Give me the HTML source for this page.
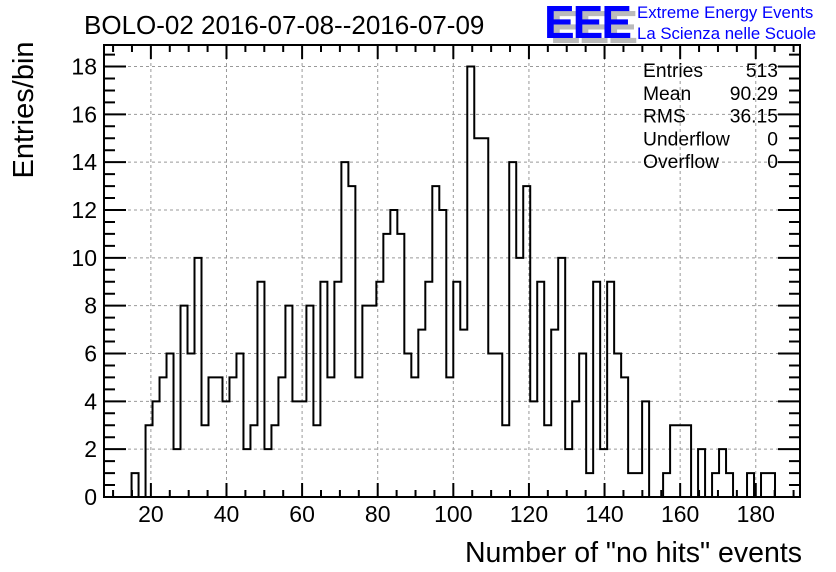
<!DOCTYPE html>
<html><head><meta charset="utf-8"><style>
body{margin:0;background:#fff}
svg{display:block;font-family:"Liberation Sans",sans-serif}
</style></head><body>
<svg id="c" width="836" height="572">
<g>
<text x="550" y="43" font-size="46" font-weight="bold" fill="#bbbbbb" letter-spacing="-2">EEE</text>
<text x="544" y="38" font-size="46" font-weight="bold" fill="#0000ff" letter-spacing="-2">EEE</text>
<text x="637" y="18" font-size="16.8" fill="#0000ff">Extreme Energy Events</text>
<text x="637" y="39" font-size="16.8" fill="#0000ff">La Scienza nelle Scuole</text>
</g>
<text x="84" y="34" font-size="26">BOLO-02 2016-07-08--2016-07-09</text>
<text transform="translate(33,110) rotate(-90)" text-anchor="middle" font-size="29">Entries/bin</text>
<text x="802" y="562" text-anchor="end" font-size="28.5">Number of "no hits" events</text>
<g id="grid"></g>
<g id="axes"></g>
<path id="hist" fill="none" stroke="#000" stroke-width="2"></path>
<g id="stats"></g>
</svg>
<script>
const binStart = 14.89;
const binWidth = 1.85;
const counts = [1,0,3,4,5,6,2,8,6,10,3,5,5,4,5,6,2,3,9,2,3,5,8,4,4,8,3,9,5,9,
14,13,5,8,8,9,11,12,11,6,5,7,9,13,12,5,9,7,18,15,15,6,6,3,14,10,13,4,9,3,7,10,2,4,
6,1,9,2,9,6,5,1,1,4,0,0,1,3,3,3,0,2,0,1,2,1,0,0,1,0,1,1];
const xTicks = [20,40,60,80,100,120,140,160,180];
const yTicks = [0,2,4,6,8,10,12,14,16,18];
const statLabels = ["Entries","Mean","RMS","Underflow","Overflow"];
const statValues = ["513","90.29","36.15","0","0"];

const L=104,R=800,T=45,B=497;
const xMin=7.6,xMax=191.7,yMin=0,yMax=18.9;
const X=v=>L+(v-xMin)/(xMax-xMin)*(R-L);
const Y=v=>B-(v-yMin)/(yMax-yMin)*(B-T);
const NS="http://www.w3.org/2000/svg";
function mk(tag,attrs,parent){const e=document.createElementNS(NS,tag);for(const k in attrs)e.setAttribute(k,attrs[k]);parent.appendChild(e);return e;}
const grid=document.getElementById('grid'),axes=document.getElementById('axes');
xTicks.forEach(t=>{const g=mk('line',{x1:X(t),x2:X(t),y1:T,y2:B,stroke:'#999','stroke-dasharray':'3,3','stroke-width':1},grid);

const tx=mk('text',{x:X(t),y:522,'text-anchor':'middle','font-size':23},axes);tx.textContent=t;
});
yTicks.forEach(t=>{if(t>0){const g=mk('line',{x1:L,x2:R,y1:Y(t),y2:Y(t),stroke:'#999','stroke-dasharray':'3,3','stroke-width':1},grid);
}
const tx=mk('text',{x:L-7,y:Y(t)+8,'text-anchor':'end','font-size':23},axes);tx.textContent=t;
});
let tk='';
for(let v=10;v<=190;v+=5){const big=v%20==0;const h=big?14:7;const x=X(v);tk+=`M${x},${B}v${-h}M${x},${T}v${h}`;}
for(let v=0.5;v<yMax;v+=0.5){const big=Math.abs(v%2)<1e-6;const h=big?22:11;const y=Y(v);tk+=`M${L},${y}h${h}M${R},${y}h${-h}`;}
const tp=mk('path',{d:tk,stroke:'#000','stroke-width':2,fill:'none'},axes);

const fr=mk('rect',{x:L,y:T,width:R-L,height:B-T,fill:'none',stroke:'#000','stroke-width':2},axes);

let d=`M${X(binStart)},${Y(0)}`;
counts.forEach((c,i)=>{const x0=X(binStart+i*binWidth),x1=X(binStart+(i+1)*binWidth);d+=`L${x0},${Y(c)}L${x1},${Y(c)}`;});
d+=`L${X(binStart+counts.length*binWidth)},${Y(0)}`;
document.getElementById('hist').setAttribute('d',d);
const st=document.getElementById('stats');
statLabels.forEach((s,i)=>{const y=77+i*22.8;
const a=mk('text',{x:643,y:y,'font-size':19.3},st);a.textContent=s;

const b=mk('text',{x:778,y:y,'font-size':19.3,'text-anchor':'end'},st);b.textContent=statValues[i];
});
</script>
</body></html>
